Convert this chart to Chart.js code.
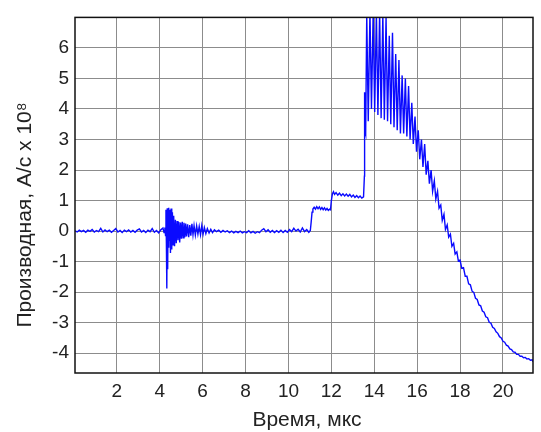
<!DOCTYPE html>
<html>
<head>
<meta charset="utf-8">
<script src="https://cdn.jsdelivr.net/npm/chart.js@4.4.1/dist/chart.umd.min.js"></script>
<style>
  html, body { margin: 0; padding: 0; background: #fff; }
  #wrap { width: 541px; height: 432px; }
</style>
</head>
<body>
<div id="wrap"><canvas id="myChart" width="541" height="432"></canvas></div>
<script>
// tick positions
const xTicks = [2, 4, 6, 8, 10, 12, 14, 16, 18, 20];
const yTicks = [-4, -3, -2, -1, 0, 1, 2, 3, 4, 5, 6];

// signal pieces, [time (us), derivative (A/s x 1e8)]
const quietStart = [
  [0.05,0.01],[0.15,-0.03],[0.25,0.03],[0.35,-0.02],[0.45,0.02],[0.55,-0.04],[0.65,0.03],[0.75,-0.01],[0.85,0.05],[0.95,-0.03],
  [1.05,0.02],[1.15,-0.02],[1.25,0.09],[1.35,-0.03],[1.45,0.04],[1.55,-0.02],[1.65,0.03],[1.75,-0.04],[1.85,0.02],[1.95,0.08],
  [2.05,-0.03],[2.15,0.02],[2.25,-0.05],[2.35,0.03],[2.45,-0.02],[2.55,0.04],[2.65,-0.03],[2.75,0.02],[2.85,-0.04],[2.95,0.03],
  [3.05,0.07],[3.15,-0.03],[3.25,0.02],[3.35,-0.05],[3.45,0.03],[3.55,-0.02],[3.65,0.08],[3.75,-0.04],[3.85,0.02],[3.95,-0.06],
  [4.05,0.04],[4.15,0.10]
];
const burst = [
  [4.20,-0.05],[4.24,0.12],[4.27,-0.15],[4.29,0.70],[4.31,-0.40],[4.33,-1.88],[4.35,0.75],[4.37,-1.25],[4.39,0.72],[4.41,-0.55],
  [4.43,0.76],[4.45,-0.30],[4.47,0.70],[4.50,-0.72],[4.53,0.74],[4.56,-0.60],[4.59,0.62],[4.62,-0.45],[4.65,0.50],[4.69,-0.50],
  [4.73,0.37],[4.77,-0.40],[4.81,0.33],[4.85,-0.30],[4.89,0.30],[4.93,-0.37],[4.97,0.28],[5.01,-0.25],[5.05,0.30],[5.09,-0.22],
  [5.13,0.27],[5.17,-0.20],[5.21,0.25],[5.25,-0.18],[5.30,0.22],[5.35,-0.20],[5.40,0.20],[5.45,-0.15],[5.50,0.24],[5.55,-0.12],
  [5.60,0.18],[5.66,-0.13],[5.72,0.17],[5.78,-0.10],[5.84,0.15],[5.90,-0.12],[5.96,0.18],[6.02,-0.10],[6.08,0.12],[6.15,-0.08],
  [6.22,0.08],[6.30,-0.06],[6.38,0.06],[6.46,-0.05],[6.55,0.04]
];
const quietMid = [
  [6.65,-0.02],[6.75,0.03],[6.85,-0.04],[6.95,0.02],[7.05,-0.03],[7.15,0.01],[7.25,-0.05],[7.35,0.00],[7.45,-0.06],[7.55,-0.01],
  [7.65,-0.05],[7.75,0.00],[7.85,-0.06],[7.95,-0.02],[8.05,-0.05],[8.15,0.01],[8.25,-0.06],[8.35,-0.01],[8.45,-0.07],[8.55,-0.02],
  [8.65,-0.05],[8.75,0.03],[8.85,0.08],[8.95,-0.02],[9.05,0.04],[9.15,-0.04],[9.25,0.02],[9.35,-0.05],[9.45,0.01],[9.55,-0.04],
  [9.65,0.03],[9.75,-0.05],[9.85,0.02],[9.95,-0.04],[10.05,0.05],[10.15,-0.02],[10.25,0.09],[10.35,0.00],[10.45,0.06],[10.55,-0.03],
  [10.65,0.10],[10.75,-0.02],[10.85,0.05],[10.95,-0.04]
];
const stepOne = [
  [11.02,0.02],[11.06,0.30],[11.10,0.62],[11.14,0.72],[11.20,0.78],[11.26,0.72],[11.32,0.80],[11.38,0.73],[11.44,0.79],[11.50,0.71],
  [11.56,0.77],[11.62,0.70],[11.68,0.76],[11.74,0.69],[11.80,0.74],[11.86,0.68],[11.92,0.72],[11.96,0.70]
];
const stepTwo = [
  [12.00,1.00],[12.05,1.22],[12.10,1.29],[12.15,1.20],[12.22,1.26],[12.30,1.18],[12.38,1.24],[12.46,1.16],[12.54,1.22],[12.62,1.15],
  [12.70,1.21],[12.78,1.14],[12.86,1.20],[12.94,1.12],[13.02,1.18],[13.10,1.10],[13.18,1.16],[13.26,1.09],[13.34,1.15],[13.42,1.08],
  [13.50,1.12]
];
const peak = [
  [13.54,1.80],[13.55,4.55],[13.57,3.30],[13.59,4.40],[13.61,3.20],[13.65,7.10],[13.72,3.60],[13.80,7.20],[13.87,4.00],[13.95,7.20],
  [14.02,3.90],[14.10,7.20],[14.17,3.80],[14.25,7.20],[14.32,3.70],[14.40,7.10],[14.47,3.65],[14.55,7.00],[14.62,3.60],[14.70,6.40],
  [14.77,3.50],[14.85,6.50],[14.92,3.40],[15.00,5.80],[15.07,3.30],[15.15,5.60],[15.22,3.20],[15.30,5.10],[15.37,3.20],[15.45,5.00],
  [15.52,3.10],[15.60,4.75],[15.67,3.00],[15.75,4.20],[15.82,2.85],[15.90,3.75],[15.97,2.60],[16.05,3.30],[16.12,2.35],[16.20,3.00],
  [16.27,2.10],[16.35,2.85],[16.42,1.85],[16.50,2.30],[16.57,1.55],[16.65,2.00],[16.72,1.30],[16.80,1.65],[16.87,1.05],[16.95,1.30],
  [17.02,0.75]
];
const decay = [
  [17.10,0.85],[17.17,0.35],[17.25,0.55],[17.32,0.05],[17.40,0.20],[17.47,-0.20],[17.55,-0.10],[17.62,-0.50],[17.70,-0.40],[17.77,-0.75],
  [17.85,-0.68],[17.92,-0.98],[18.00,-0.95],[18.08,-1.22],[18.16,-1.20],[18.24,-1.48],[18.32,-1.48],[18.40,-1.73],[18.48,-1.76],[18.56,-1.97],
  [18.64,-2.01],[18.72,-2.20],[18.80,-2.24],[18.88,-2.42],[18.96,-2.45],[19.04,-2.62],[19.12,-2.66],[19.20,-2.81],[19.28,-2.84],[19.36,-2.99],
  [19.44,-3.02],[19.52,-3.15],[19.60,-3.19],[19.68,-3.30],[19.76,-3.35],[19.84,-3.46],[19.92,-3.50],[20.00,-3.61],[20.08,-3.64],[20.16,-3.74],
  [20.24,-3.77],[20.32,-3.86],[20.40,-3.88],[20.48,-3.96],[20.56,-3.97],[20.64,-4.04],[20.72,-4.04],[20.80,-4.10],[20.88,-4.10],[20.96,-4.15],
  [21.04,-4.14],[21.12,-4.19],[21.20,-4.18],[21.28,-4.23],[21.36,-4.22],[21.40,-4.28]
];

const points = [].concat(quietStart, burst, quietMid, stepOne, stepTwo, peak, decay)
  .map(p => ({ x: p[0], y: p[1] }));

const FONT = "'Liberation Sans', Arial, sans-serif";

// frame and axis titles
const framePlugin = {
  id: 'frame',
  afterDraw(chart) {
    const { ctx, chartArea: a } = chart;
    ctx.save();
    ctx.strokeStyle = '#111';
    ctx.lineWidth = 1.5;
    ctx.strokeRect(a.left, a.top, a.right - a.left, a.bottom - a.top);

    ctx.fillStyle = '#222';
    ctx.font = '21px ' + FONT;
    ctx.textAlign = 'center';
    ctx.textBaseline = 'middle';
    ctx.fillText('Время, мкс', 307, 420);

    ctx.translate(25, 215);
    ctx.rotate(-Math.PI / 2);
    ctx.fillText('Производная, А/с x 10⁸', 0, 0);
    ctx.restore();
  }
};

new Chart("myChart", {
  type: "scatter",
  data: {
    datasets: [{
      data: points,
      showLine: true,
      borderColor: "#0a0aff",
      borderWidth: 1.4,
      pointRadius: 0,
      fill: false
    }]
  },
  options: {
    responsive: false,
    animation: false,
    layout: { padding: { top: 10, right: 8, left: 0, bottom: 0 } },
    plugins: {
      legend: { display: false },
      tooltip: { enabled: false }
    },
    scales: {
      x: {
        type: 'linear',
        min: 0.05,
        max: 21.4,
        afterBuildTicks: s => { s.ticks = xTicks.map(v => ({ value: v })); },
        afterFit: s => { s.height = 59; },
        grid: { color: '#8c8c8c', lineWidth: 1, drawTicks: false },
        border: { display: false },
        ticks: { color: '#222', padding: 7, font: { size: 19, family: FONT }, maxRotation: 0 }
      },
      y: {
        min: -4.65,
        max: 7.0,
        afterBuildTicks: s => { s.ticks = yTicks.map(v => ({ value: v })); },
        afterFit: s => { s.width = 75; },
        grid: { color: '#8c8c8c', lineWidth: 1, drawTicks: false },
        border: { display: false },
        ticks: { color: '#222', padding: 6, font: { size: 19, family: FONT } }
      }
    }
  },
  plugins: [framePlugin]
});
</script>
</body>
</html>
